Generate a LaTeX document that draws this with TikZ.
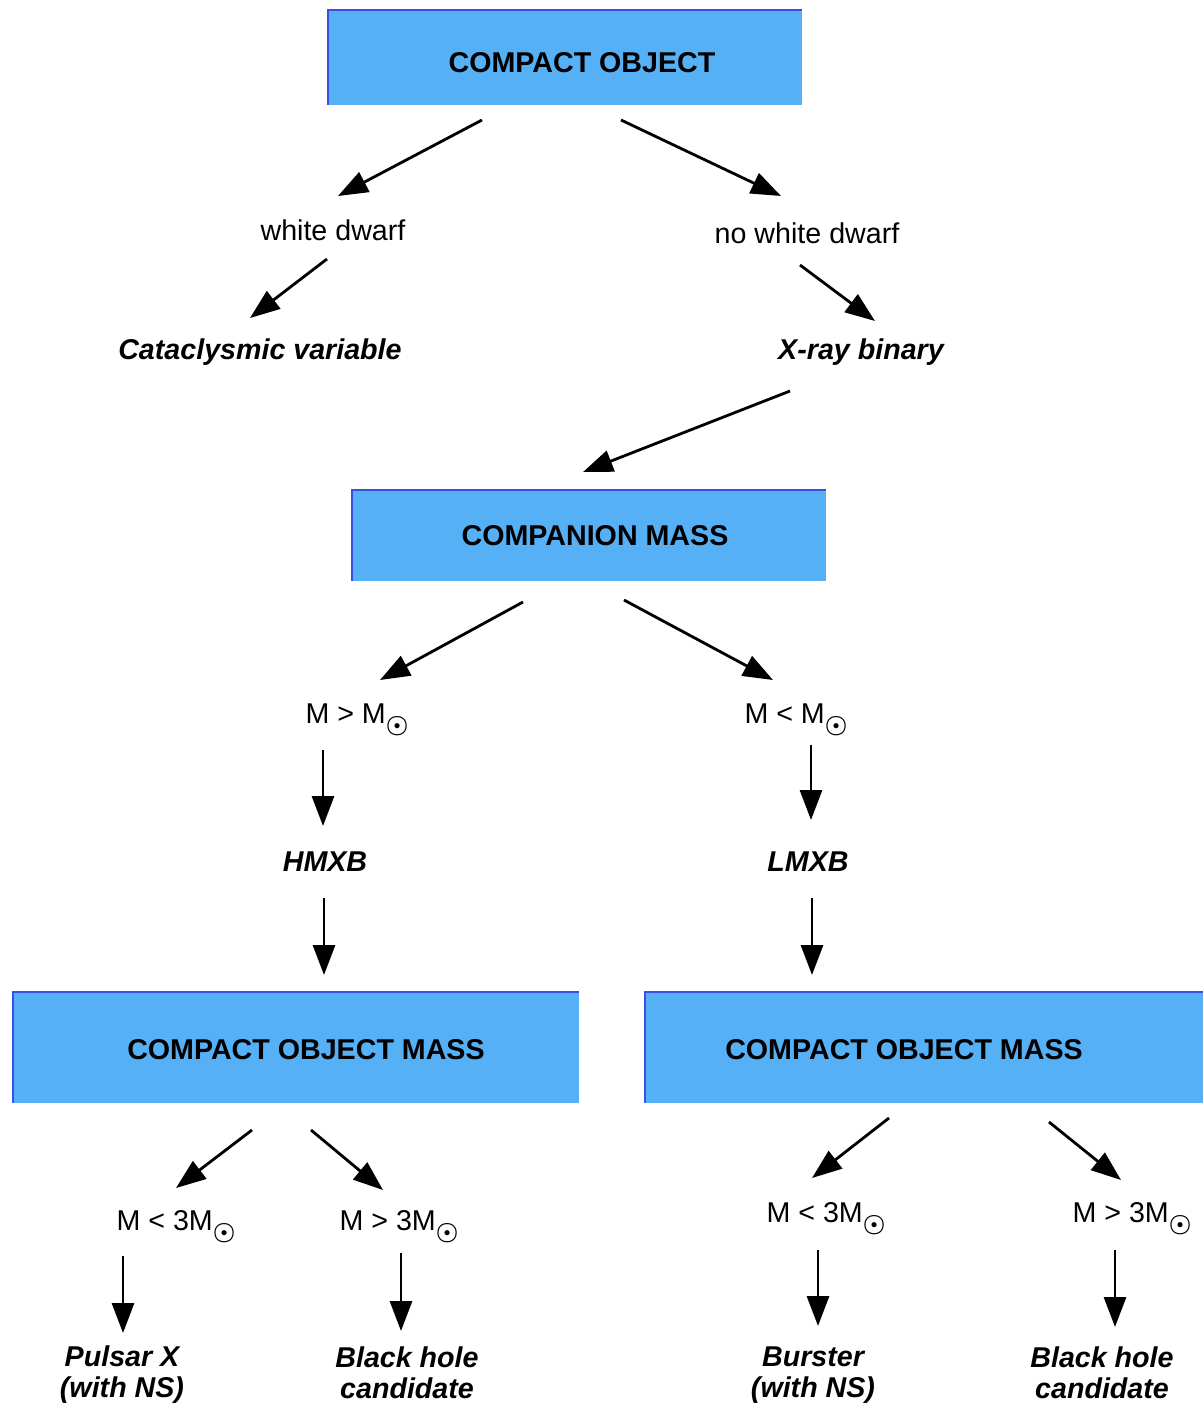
\documentclass[tikz,border=0pt]{standalone}
\usepackage{fontspec}
\setmainfont{Liberation Sans}
\usepackage{tikz}
\usetikzlibrary{arrows.meta, calc}
\definecolor{BoxBlue}{HTML}{55B0F6}
\definecolor{EdgeBlue}{HTML}{3A4FE6}
\newcommand{\msun}{M\raisebox{-5pt}{\fontsize{14}{14}\selectfont$\boldsymbol{\odot}$}}
\usepackage{amsmath, amssymb}

\begin{document}
\begin{tikzpicture}[x=0.02cm, y=-0.02cm,
    >={Triangle[length=17pt, width=12.5pt]},
    font=\fontsize{16.3}{17.6}\selectfont,
    box/.style={fill=BoxBlue, inner sep=0pt},
    boxtext/.style={font=\fontsize{16.3}{17.6}\selectfont\bfseries},
    cond/.style={inner sep=1pt},
    leaf/.style={inner sep=1pt, align=center, font=\fontsize{16.3}{17.6}\selectfont\bfseries\itshape},
    arr/.style={->, line width=1.6pt}]
  \useasboundingbox (0,0) rectangle (1203,1404);

  % boxes, caption set a little off centre
  \node[box, minimum width=9.48cm, minimum height=1.9cm,
        label={[boxtext, xshift=0.34cm, yshift=-0.11cm]center:COMPACT OBJECT}] (co) at (565,57.5) {};
  \node[box, minimum width=9.48cm, minimum height=1.82cm,
        label={[boxtext, xshift=0.12cm]center:COMPANION MASS}] (cm) at (589,535.5) {};
  \node[box, minimum width=11.32cm, minimum height=2.22cm,
        label={[boxtext, xshift=0.2cm, yshift=-0.05cm]center:COMPACT OBJECT MASS}] (oml) at (296,1047.5) {};
  \node[box, minimum width=11.16cm, minimum height=2.22cm,
        label={[boxtext, xshift=-0.4cm, yshift=-0.05cm]center:COMPACT OBJECT MASS}] (omr) at (924,1047.5) {};
  \foreach \b in {co, cm, oml, omr}
    \draw[EdgeBlue, line width=1.2pt] (\b.south west) -- (\b.north west) -- (\b.north east);

  % first split
  \node[cond] (wd) at (333,230) {white dwarf};
  \node[cond] (nwd) at (807,233) {no white dwarf};
  \node[leaf] (cv) at (260,352) {Cataclysmic variable};
  \node[leaf] (xrb) at (861,352) {X-ray binary};

  % companion mass
  \node[cond] (mgt) at (357,720) {M > \msun};
  \node[cond] (mlt) at (796,720) {M < \msun};
  \node[leaf] (hmxb) at (325,862) {HMXB};
  \node[leaf] (lmxb) at (808,862) {LMXB};

  % compact object mass
  \node[cond] (la) at (176,1227) {M < 3\msun};
  \node[cond] (lb) at (399,1227) {M > 3\msun};
  \node[cond] (ra) at (826,1219) {M < 3\msun};
  \node[cond] (rb) at (1132,1219) {M > 3\msun};
  \node[leaf] (pul) at (122,1375) {Pulsar X\\(with NS)};
  \node[leaf] (bhl) at (407,1373) {Black hole\\candidate};
  \node[leaf] (bur) at (813,1375) {Burster\\(with NS)};
  \node[leaf] (bhr) at (1102,1373) {Black hole\\candidate};

  % arrows
  \draw[arr] ($(co)+(-83,62.5)$) -- ($(wd)+(5,-34)$);
  \draw[arr] ($(co)+(56,62.5)$) -- ($(nwd)+(-26,-37)$);
  \draw[arr] ($(wd)+(-6,29)$) -- ($(cv)+(-10,-34)$);
  \draw[arr] ($(nwd)+(-7,32)$) -- ($(xrb)+(14,-31)$);
  \draw[arr] ($(xrb)+(-71,39)$) -- ($(cm)+(-6,-63.5)$);
  \draw[arr] ($(cm)+(-66,66.5)$) -- ($(mgt)+(23,-40)$);
  \draw[arr] ($(cm)+(35,64.5)$) -- ($(mlt)+(-23,-40)$);
  \draw[arr] ($(mgt)+(-34,30)$) -- ($(hmxb)+(-2,-36)$);
  \draw[arr] ($(mlt)+(15,25)$) -- ($(lmxb)+(3,-42)$);
  \draw[arr] ($(hmxb)+(-1,36)$) -- ($(oml)+(28,-72.5)$);
  \draw[arr] ($(lmxb)+(4,36)$) -- ($(omr)+(-112,-72.5)$);
  \draw[arr] ($(oml)+(-44,82.5)$) -- ($(la)+(0,-39)$);
  \draw[arr] ($(oml)+(15,82.5)$) -- ($(lb)+(-16,-37)$);
  \draw[arr] ($(omr)+(-35,70.5)$) -- ($(ra)+(-14,-41)$);
  \draw[arr] ($(omr)+(125,74.5)$) -- ($(rb)+(-11,-39)$);
  \draw[arr] ($(la)+(-53,29)$) -- ($(pul)+(1,-42)$);
  \draw[arr] ($(lb)+(2,26)$) -- ($(bhl)+(-6,-42)$);
  \draw[arr] ($(ra)+(-8,31)$) -- ($(bur)+(5,-49)$);
  \draw[arr] ($(rb)+(-17,31)$) -- ($(bhr)+(13,-46)$);
\end{tikzpicture}
\end{document}
